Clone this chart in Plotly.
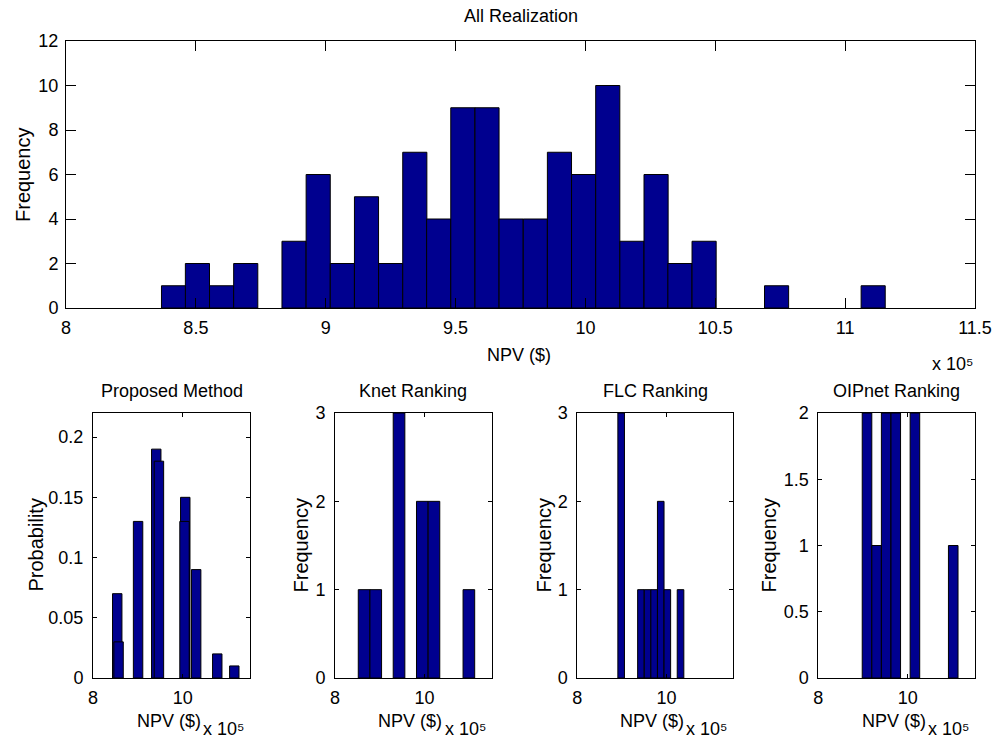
import plotly.graph_objects as go

# ---------------- data (NPV in units of 1e5 $) ----------------
all_centers = [8.414, 8.506, 8.599, 8.692, 8.785, 8.878, 8.971, 9.064, 9.157, 9.250,
               9.343, 9.435, 9.528, 9.621, 9.714, 9.807, 9.900, 9.993, 10.086, 10.179,
               10.272, 10.364, 10.457, 10.550, 10.643, 10.736, 10.829, 10.922, 11.015, 11.108]
all_counts = [1, 2, 1, 2, 0, 3, 6, 2, 5, 2,
              7, 4, 9, 9, 4, 4, 7, 6, 10, 3,
              6, 2, 3, 0, 0, 1, 0, 0, 0, 1]
all_width = 0.0929

prop_centers = [8.54, 8.57, 9.005, 9.41, 9.47, 10.057, 10.04, 10.30, 10.77, 11.15]
prop_probs = [0.07, 0.03, 0.13, 0.19, 0.18, 0.15, 0.13, 0.09, 0.02, 0.01]
prop_width = 0.21

knet_centers = [8.65, 8.91, 9.17, 9.43, 9.69, 9.95, 10.21, 10.47, 10.73, 10.99]
knet_counts = [1, 1, 0, 3, 0, 2, 2, 0, 0, 1]
knet_width = 0.26

flc_centers = [8.984, 9.132, 9.280, 9.428, 9.576, 9.724, 9.872, 10.020, 10.168, 10.316]
flc_counts = [3, 0, 0, 1, 1, 1, 2, 1, 0, 1]
flc_width = 0.148

oip_centers = [9.088, 9.302, 9.516, 9.730, 9.944, 10.158, 10.372, 10.586, 10.800, 11.014]
oip_counts = [2, 1, 2, 2, 0, 2, 0, 0, 0, 1]
oip_width = 0.214

top_xticks = [8, 8.5, 9, 9.5, 10, 10.5, 11, 11.5]
bottom_xticks = [8, 10]

titles = ["Proposed Method", "Knet Ranking", "FLC Ranking", "OIPnet Ranking"]

# ---------------- styling ----------------
W, H = 994, 748
BAR = "rgb(0,0,143)"
FONT = "Liberation Sans, Arial, sans-serif"
FS = 18


def xp(px):
    return px / W


def yp(py):
    return 1 - py / H


fig = go.Figure()


def add_bars(x, y, w, xa, ya):
    pts = [(a, b) for a, b in zip(x, y) if b > 0]
    fig.add_trace(go.Bar(x=[p[0] for p in pts], y=[p[1] for p in pts], width=[w] * len(pts),
                         xaxis=xa, yaxis=ya,
                         marker=dict(color=BAR, line=dict(color="black", width=1)),
                         showlegend=False, hoverinfo="x+y"))


add_bars(all_centers, all_counts, all_width, "x", "y")
add_bars(prop_centers, prop_probs, prop_width, "x2", "y2")
add_bars(knet_centers, knet_counts, knet_width, "x3", "y3")
add_bars(flc_centers, flc_counts, flc_width, "x4", "y4")
add_bars(oip_centers, oip_counts, oip_width, "x5", "y5")


def ax(domain, rng, ticklen, anchor, standoff, tickvals=None, dtick=None):
    d = dict(domain=domain, range=rng, anchor=anchor, showline=True, linecolor="black",
             linewidth=1, mirror="ticks", ticks="inside", ticklen=ticklen, tickcolor="black",
             tickwidth=1, showgrid=False, zeroline=False, fixedrange=True,
             ticklabelstandoff=standoff,
             tickfont=dict(family=FONT, size=FS, color="black"))
    if tickvals is not None:
        d["tickmode"] = "array"
        d["tickvals"] = tickvals
    if dtick is not None:
        d["tick0"] = 0
        d["dtick"] = dtick
    return d


top_y = [yp(308), yp(41)]
bot_y = [yp(678), yp(413)]
panels_x = [(93, 250), (335, 491.7), (577.3, 733.3), (818.3, 975)]

layout = dict(width=W, height=H,
              margin=dict(l=0, r=0, t=0, b=0, pad=0, autoexpand=False),
              paper_bgcolor="white", plot_bgcolor="white", barmode="overlay",
              font=dict(family=FONT, size=FS, color="black"))

layout["xaxis"] = ax([xp(66), xp(975)], [7.9999, 11.5001], 10, "y", 3, tickvals=top_xticks)
layout["yaxis"] = ax(top_y, [0, 12], 10, "x", 3, dtick=2)

yranges = [([0, 0.22], 0.05), ([0, 3], 1), ([0, 3], 1), ([0, 2], 0.5)]
for i, ((l, r), (yr, dt)) in enumerate(zip(panels_x, yranges)):
    n = i + 2
    layout[f"xaxis{n}"] = ax([xp(l), xp(r)], [7.9999, 11.5], 4, f"y{n}", 3, tickvals=bottom_xticks)
    layout[f"yaxis{n}"] = ax(bot_y, yr, 4, f"x{n}", 5, dtick=dt)

ann = []


def text(t, x, y, xanchor="center", yanchor="middle", angle=0, size=FS):
    ann.append(dict(text=t, x=xp(x), y=yp(y), xref="paper", yref="paper", showarrow=False,
                    xanchor=xanchor, yanchor=yanchor, textangle=angle,
                    font=dict(family=FONT, size=size, color="black")))


SCALE = "x 10\u2075"
text("All Realization", 520.5, 16)
text("NPV ($)", 518.5, 355)
text(SCALE, 975, 364, xanchor="right")
text("Frequency", 22.5, 174.5, angle=-90, size=20)

ylabels = ["Probability", "Frequency", "Frequency", "Frequency"]
ylab_x = [35, 300, 543, 768]
for (l, r), t, yl, yx in zip(panels_x, titles, ylabels, ylab_x):
    c = (l + r) / 2
    text(t, c, 391)
    text("NPV ($)", c - 3, 721)
    text(SCALE, r - 4, 729, xanchor="right")
    text(yl, yx, 545.5, angle=-90, size=20)

layout["annotations"] = ann
fig.update_layout(**layout)
fig.write_html("out.html")
